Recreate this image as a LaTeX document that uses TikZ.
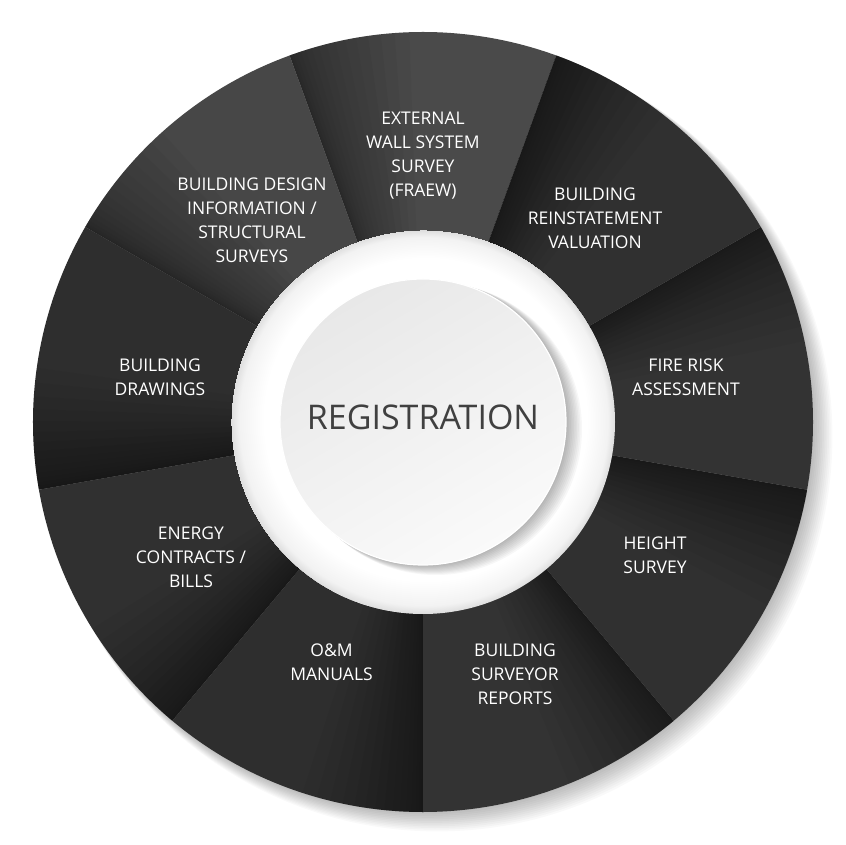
\documentclass[tikz,border=0pt]{standalone}
\usepackage{fontspec}
\setmainfont{Open Sans}
\pgfdeclareradialshading{ringshade}{\pgfpoint{2bp}{2bp}}{color(0bp)=(white); color(21bp)=(white); color(24bp)=(black!5); color(25bp)=(black!13)}
\begin{document}
\begin{tikzpicture}[x=1pt,y=1pt,
    lbl/.style={text=white, align=center, font=\fontsize{17.5}{24}\selectfont}]
    \useasboundingbox (-423,-423) rectangle (422,422); %Tamanho da figura
    \fill[white] (-423,-423) rectangle (422,422);
        %Sombra do anel
    \foreach \k in {1,...,12}
        \fill[black,opacity=0.025] (1.2*\k,-1.2*\k) circle (389+0.5*\k);
        %Segmentos (angulo central / cinza)
    \foreach \a/\g in {90/71,130/72,170/82,210/81,250/82,290/80,330/81,370/80,410/81}{
        \fill[black!\g] (0,0) -- ({\a-20}:390) arc[start angle=\a-20, end angle=\a+20, radius=390] -- cycle;
        \foreach \k in {1,...,16}
            \fill[black,opacity=0.03] (0,0) -- ({\a+20-18*(\k/16)^2}:390) arc[start angle={\a+20-18*(\k/16)^2}, end angle=\a+20, radius=390] -- cycle;
    }
        %Anel branco
    \shade[shading=ringshade] (0,0) circle (192);
        %Sombra do disco
    \foreach \k in {1,...,10}
        \fill[black,opacity=0.03] (1.3*\k,-0.7*\k) circle (143+0.3*\k);
        %Disco central
    \shade[top color=black!9, bottom color=black!2, shading angle=30] (0,0) circle (143);
    \draw[white, line width=1.2] (0,0) circle (143);
    \node[text=black!75, font=\fontsize{34}{40}\selectfont] (reg) at (0,4.5) {REGISTRATION};
        %Textos
    \node[lbl] (fraew) at (0,266) {EXTERNAL\\WALL SYSTEM\\SURVEY\\(FRAEW)};
    \node[lbl] (valuation) at (172,204) {BUILDING\\REINSTATEMENT\\VALUATION};
    \node[lbl] (fire) at (263,45) {FIRE RISK\\ASSESSMENT};
    \node[lbl] (height) at (232,-133) {HEIGHT\\SURVEY};
    \node[lbl] (surveyor) at (92,-252) {BUILDING\\SURVEYOR\\REPORTS};
    \node[lbl] (manuals) at (-91.5,-240) {O\&M\\MANUALS};
    \node[lbl] (energy) at (-232,-135) {ENERGY\\CONTRACTS /\\BILLS};
    \node[lbl] (drawings) at (-263,45) {BUILDING\\DRAWINGS};
    \node[lbl] (design) at (-171,201.5) {BUILDING DESIGN\\INFORMATION /\\STRUCTURAL\\SURVEYS};
\end{tikzpicture}
\end{document}
